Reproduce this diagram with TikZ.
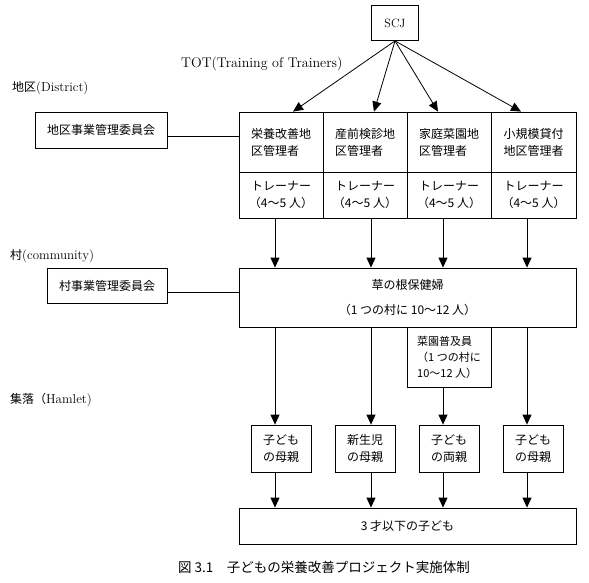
\documentclass[tikz,border=0pt]{standalone}
\usepackage{fontspec}
\newfontfamily\jp{Noto Sans CJK JP}
\usetikzlibrary{arrows.meta}

\begin{document}
\begin{tikzpicture}[x=1pt,y=-1pt,>={Triangle[length=10pt,width=9pt]},
    font=\fontsize{12}{17}\selectfont]
    \useasboundingbox (0,0) rectangle (589,582);

	\begin{scope}[every node/.style={draw,line width=0.8pt,inner sep=0pt,align=center,font=\fontsize{12}{17}\selectfont\jp}]
    \node[minimum width=47,minimum height=35,font=\fontsize{12}{15}\selectfont] (scj) at (395,23) {SCJ};
    \node[minimum width=132,minimum height=36] (dmc) at (101,130) {地区事業管理委員会};
    \node[minimum width=120,minimum height=35] (vmc) at (107,285.5) {村事業管理委員会};
    \node[minimum width=84,minimum height=60,align=left] (m1) at (281,142) {栄養改善地\\区管理者};
    \node[minimum width=84,minimum height=60,align=left] (m2) at (365,142) {産前検診地\\区管理者};
    \node[minimum width=84,minimum height=60,align=left] (m3) at (449,142) {家庭菜園地\\区管理者};
    \node[minimum width=85,minimum height=60,align=left] (m4) at (533.5,142) {小規模貸付\\地区管理者};
    \node[minimum width=84,minimum height=46] (t1) at (281,195) {トレーナー\\（4～5 人）};
    \node[minimum width=84,minimum height=46] (t2) at (365,195) {トレーナー\\（4～5 人）};
    \node[minimum width=84,minimum height=46] (t3) at (449,195) {トレーナー\\（4～5 人）};
    \node[minimum width=85,minimum height=46] (t4) at (533.5,195) {トレーナー\\（4～5 人）};
    \node[minimum width=337,minimum height=59,font=\fontsize{12}{25}\selectfont\jp] (grass) at (407.5,297.5) {草の根保健婦\\（1 つの村に 10～12 人）};
    \node[minimum width=84,minimum height=60,align=left,font=\fontsize{11}{16}\selectfont\jp] (veg) at (449,357.5) {菜園普及員\\ （1 つの村に\\10～12 人）};
    \node[minimum width=60,minimum height=47] (h1) at (281,448.5) {子ども\\の母親};
    \node[minimum width=60,minimum height=47] (h2) at (365,448.5) {新生児\\の母親};
    \node[minimum width=60,minimum height=47] (h3) at (449,448.5) {子ども\\の両親};
    \node[minimum width=60,minimum height=47] (h4) at (533,448.5) {子ども\\の母親};
    \node[minimum width=337,minimum height=36] (kids) at (407.5,526) {3 才以下の子ども};
	\end{scope}

    % level labels
    \node[anchor=west,inner sep=0pt,font=\fontsize{13}{15}\selectfont] (lbd) at (12,88) {{\jp\fontsize{12}{15}\selectfont 地区}(District)};
    \node[anchor=west,inner sep=0pt,font=\fontsize{13}{15}\selectfont] (lbc) at (10,256) {{\jp\fontsize{12}{15}\selectfont 村}(community)};
    \node[anchor=west,inner sep=0pt,font=\fontsize{13}{15}\selectfont] (lbh) at (10,400) {{\jp\fontsize{12}{15}\selectfont 集落（}Hamlet)};
    \node[anchor=west,inner sep=0pt,font=\fontsize{14}{16}\selectfont] (tot) at (181,64) {TOT(Training of Trainers)};
    \node[inner sep=0pt,font=\fontsize{13.5}{16}\selectfont\jp] (cap) at (324,567) {図 3.1　子どもの栄養改善プロジェクト実施体制};

    \coordinate (a1) at (293,0);
    \coordinate (a2) at (374,0);
    \coordinate (a3) at (438,0);
    \coordinate (a4) at (521,0);
    \coordinate (c1) at (275,0);
    \coordinate (c2) at (371,0);
    \coordinate (c3) at (443,0);
    \coordinate (c4) at (527,0);
    \coordinate (d) at (0,136);
    \coordinate (v) at (0,292);

	\begin{scope}[every edge/.style={draw,line width=0.8pt}]
    \path [->] (scj.south) edge (m1.north -| a1);
    \path [->] (scj.south) edge (m2.north -| a2);
    \path [->] (scj.south) edge (m3.north -| a3);
    \path [->] (scj.south) edge (m4.north -| a4);
    \path (dmc.east |- d) edge (m1.west |- d);
    \path (vmc.east |- v) edge (grass.west |- v);
    \path [->] (t1.south -| c1) edge (grass.north -| c1);
    \path [->] (t2.south -| c2) edge (grass.north -| c2);
    \path [->] (t3.south -| c3) edge (grass.north -| c3);
    \path [->] (t4.south -| c4) edge (grass.north -| c4);
    \path [->] (grass.south -| c1) edge (h1.north -| c1);
    \path [->] (grass.south -| c2) edge (h2.north -| c2);
    \path [->] (veg.south -| c3) edge (h3.north -| c3);
    \path [->] (grass.south -| c4) edge (h4.north -| c4);
    \path [->] (h1.south -| c1) edge (kids.north -| c1);
    \path [->] (h2.south -| c2) edge (kids.north -| c2);
    \path [->] (h3.south -| c3) edge (kids.north -| c3);
    \path [->] (h4.south -| c4) edge (kids.north -| c4);
\end{scope}
\end{tikzpicture}
\end{document}
